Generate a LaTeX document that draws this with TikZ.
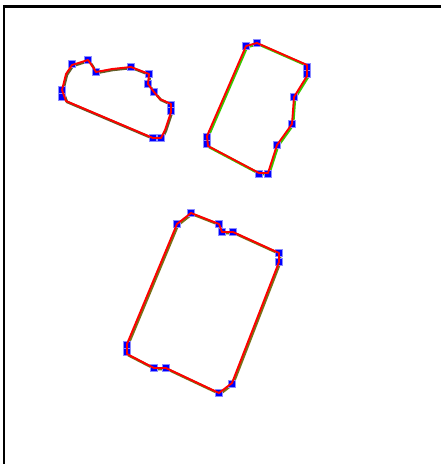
\documentclass[tikz,border=0pt]{standalone}
\begin{document}
\begin{tikzpicture}[x=1pt,y=-1pt,
  redline/.style={draw=red, line width=1.9pt, line join=round},
  greenA/.style={draw=olive!60!black, line width=2.6pt, line join=round},
  greenB/.style={draw=green!55!olive, line width=2.6pt, line join=round},
  greenC/.style={draw=olive!80!black, line width=2.6pt, line join=round},
  vtx/.style={fill=blue, draw=blue!45, line width=0.8pt},
  frameline/.style={draw=black, line width=2.2pt}]
\useasboundingbox (0,0) rectangle (441,464);
\fill[white] (0,0) rectangle (441,464);
% frame (only top and left edges visible)
\coordinate (fTR) at (441,6.5);
\coordinate (fTL) at (4,6.5);
\coordinate (fBL) at (4,464);
\draw[frameline] (fTR) -- (fTL) -- (fBL);

% ---------- shape 1 (cloud) ----------
\draw[greenA, shift={(0.9,0.9)}] (62,90) -- (66,74) -- (72,65) -- (88,60) -- (91,64) -- (96,72) -- (112,69) -- (131,67) -- (149,74) -- (148,84) -- (154,92) -- (160,99) -- (171,104) -- (171,112) -- (165,130) -- (161,138) -- (153,138) -- (66,101) -- cycle;
\foreach \p in {(72,64),(88,60),(96,72),(131,67),(149,74),(148,84),(154,92),(171,105),(171,111),(153,138),(161,138),(62,90),(62,97)}
  \filldraw[vtx] \p ++(-3.3,-3.3) rectangle ++(6.6,6.6);
\draw[redline] (62,90) -- (66,74) -- (72,65) -- (88,60) -- (91,64) -- (96,72) -- (112,69) -- (131,67) -- (149,74) -- (148,84) -- (154,92) -- (160,99) -- (171,104) -- (171,112) -- (165,130) -- (161,138) -- (153,138) -- (66,101) -- cycle;

% ---------- shape 2 (upper right rectangle) ----------
\draw[greenB, shift={(1,1)}] (246,46) -- (257,43) -- (307,65) -- (307,76) -- (294,97) -- (292,124) -- (277,145) -- (268,173) -- (259,173) -- (208,146) -- (207,136) -- cycle;
\foreach \p in {(246,46),(257,43),(307,67),(307,74),(294,97),(292,124),(277,145),(259,174),(268,174),(207,137),(207,144)}
  \filldraw[vtx] \p ++(-3.3,-3.3) rectangle ++(6.6,6.6);
\draw[redline] (246,46) -- (257,43) -- (307,65) -- (307,76) -- (294,97) -- (292,124) -- (277,145) -- (268,173) -- (259,173) -- (208,146) -- (207,136) -- cycle;

% ---------- shape 3 (lower rectangle) ----------
\draw[greenC, shift={(1,1)}] (191,213) -- (177,224) -- (127,344) -- (127,354) -- (154,368) -- (166,368) -- (219,393) -- (232,383) -- (279,262) -- (279,253) -- (233,232) -- (222,232) -- (219,224) -- cycle;
\foreach \p in {(191,213),(177,224),(219,224),(222,232),(233,232),(279,253),(279,262),(127,345),(127,352),(154,368),(166,368),(219,393),(232,384)}
  \filldraw[vtx] \p ++(-3.3,-3.3) rectangle ++(6.6,6.6);
\draw[redline] (191,213) -- (177,224) -- (127,344) -- (127,354) -- (154,368) -- (166,368) -- (219,393) -- (232,383) -- (279,262) -- (279,253) -- (233,232) -- (222,232) -- (219,224) -- cycle;
\end{tikzpicture}
\end{document}
